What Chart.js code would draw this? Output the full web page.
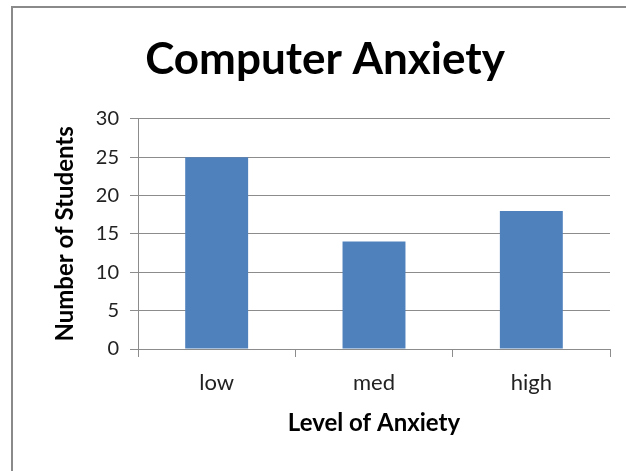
<!DOCTYPE html>
<html>
<head>
<meta charset="utf-8">
<script src="https://cdn.jsdelivr.net/npm/chart.js@4"></script>
<style>
  html, body { margin: 0; padding: 0; background: #fff; }
  #wrap { position: relative; width: 626px; height: 471px; overflow: hidden; }
  #frame { position: absolute; left: 11px; top: 6px; width: 700px; height: 600px;
           border-left: 2px solid #8a8a8a; border-top: 2px solid #8a8a8a; }
  canvas { position: absolute; left: 0; top: 0; }
</style>
</head>
<body>
<div id="wrap">
  <div id="frame"></div>
  <canvas id="chart" width="626" height="471"></canvas>
</div>
<script>
// data
const categories = ['low', 'med', 'high'];
const students = [25, 14, 18];
const yTicks = [0, 5, 10, 15, 20, 25, 30];

const FONT = 'Lato, "Open Sans", sans-serif';
const GRID = '#8c8c8c';

const el = document.getElementById('chart');
new Chart(el.getContext('2d'), {
  type: 'bar',
  data: {
    labels: categories,
    datasets: [{
      label: 'Students',
      data: students,
      backgroundColor: '#4F81BD',
      borderWidth: 0,
      barPercentage: 0.4,
      categoryPercentage: 1.0
    }]
  },
  options: {
    responsive: false,
    animation: false,
    // left padding picked so the title centres where the original does
    layout: { padding: { left: 40, right: 16, top: 0, bottom: 0 } },
    plugins: {
      legend: { display: false },
      tooltip: { enabled: false },
      title: {
        display: true,
        text: 'Computer Anxiety',
        color: '#000',
        font: { family: FONT, size: 44, weight: 'bold' },
        padding: { top: 33, bottom: 33 }
      }
    },
    scales: {
      x: {
        afterFit: (s) => { s.height = 122; },
        grid: { display: true, drawOnChartArea: false, drawTicks: true, tickLength: 8, color: GRID, offset: true },
        border: { display: true, color: GRID, width: 1 },
        ticks: { color: '#222', font: { family: FONT, size: 22 }, padding: 13, maxRotation: 0 },
        title: {
          display: true, text: 'Level of Anxiety', color: '#000',
          font: { family: FONT, size: 24, weight: 'bold' },
          padding: { top: 0, bottom: 33 }
        }
      },
      y: {
        min: 0, max: 30,
        afterFit: (s) => { s.width = 98; },
        afterBuildTicks: (s) => { s.ticks = yTicks.map(v => ({ value: v })); },
        grid: { color: GRID, lineWidth: 1, tickLength: 8 },
        border: { display: true, color: GRID, width: 1 },
        ticks: { color: '#222', font: { family: FONT, size: 20 }, padding: 11 },
        title: {
          display: true, text: 'Number of Students', color: '#000',
          font: { family: FONT, size: 24, weight: 'bold' },
          padding: { top: 11, bottom: 0 }
        }
      }
    }
  }
});
</script>
</body>
</html>
